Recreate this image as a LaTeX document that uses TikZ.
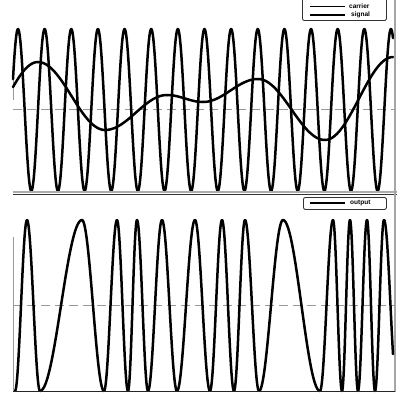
\documentclass[tikz,border=0pt]{standalone}
\usepackage{fontspec}
\setmainfont{Liberation Sans}
\begin{document}
\begin{tikzpicture}[x=1pt,y=-1pt,
  wave/.style={line width=2.5pt,black,line cap=round,line join=round},
  midline/.style={gray!80,line width=1pt,dash pattern=on 9pt off 5pt},
  frame/.style={gray!70,line width=1.4pt},
  axisline/.style={black!85,line width=1.6pt},
  thinaxis/.style={gray!80,line width=0.8pt},
  legbox/.style={draw=black!80,line width=0.9pt,rounded corners=2pt,fill=white},
  legline/.style={black,line width=1.6pt},
  legtext/.style={font=\bfseries\fontsize{6.5}{7}\selectfont,anchor=west,inner sep=0pt}]
\useasboundingbox (0,0) rectangle (410,412);
\fill[white] (0,0) rectangle (410,412);

% ---------- top panel ----------
\coordinate (tl) at (13,109);
\coordinate (tr) at (395,109);
\draw[midline] (tl) -- (tr);
\coordinate (ta1) at (13,78);
\coordinate (ta2) at (13,100);
\draw[thinaxis] (ta1) -- (ta2);
% carrier
\draw[wave] plot[domain=13:393,samples=700] (\x,{110-81*cos(13.5135*(\x-18))});
% signal (half-cosine pieces between extrema)
\draw[wave] plot[domain=13:38,samples=30] (\x,{103+41*cos((\x+29)/67*180)});
\foreach \a/\ya/\b/\yb in {38/62/105/130, 105/130/167/95, 167/95/203/102, 203/102/258/79, 258/79/325/140, 325/140/393/57}
  \draw[wave] plot[domain=\a:\b,samples=40] (\x,{(\ya+\yb)/2+(\ya-\yb)/2*cos((\x-\a)/(\b-\a)*180)});
% axes / frame
\coordinate (tb1) at (13,192);
\coordinate (tb2) at (397,192);
\coordinate (tc1) at (13,194.5);
\coordinate (tc2) at (397,194.5);
\draw[gray!65,line width=1.4pt] (tb1) -- (tb2);
\draw[black!80,line width=1.4pt] (tc1) -- (tc2);
\coordinate (rf1) at (395,0);
\coordinate (rf2) at (395,392);
\draw[frame] (rf1) -- (rf2);
% legend top
\node[legbox,minimum width=84pt,minimum height=28pt,anchor=south west] (legA) at (302,21) {};
\coordinate (la1) at (310,6.5);
\coordinate (la2) at (345,6.5);
\coordinate (lb1) at (310,15);
\coordinate (lb2) at (345,15);
\draw[legline] (la1) -- (la2);
\draw[legline] (lb1) -- (lb2);
\node[legtext] (tcarrier) at (349,6.5) {carrier};
\node[legtext] (tsignal) at (351,15) {signal};

% ---------- bottom panel ----------
\coordinate (bl) at (13,305);
\coordinate (br) at (395,305);
\draw[midline] (bl) -- (br);
\coordinate (ba1) at (13,237);
\coordinate (ba2) at (13,392);
\draw[thinaxis] (ba1) -- (ba2);
\foreach \a/\b/\s in {15/27/1, 27/40/-1, 40/82/1, 82/104/-1, 104/117/1, 117/128/-1, 128/137/1, 137/148/-1, 148/162/1, 162/177/-1, 177/195/1, 195/210/-1, 210/222/1, 222/234/-1, 234/245/1, 245/259/-1, 259/283/1, 283/320/-1, 320/333/1, 333/342/-1, 342/350/1, 350/358/-1, 358/367/1, 367/375/-1, 375/384/1}
  \draw[wave] plot[domain=\a:\b,samples=30] (\x,{305.5+\s*85.5*cos((\x-\a)/(\b-\a)*180)});
\draw[wave] plot[domain=384:393,samples=20] (\x,{305.5-85.5*cos((\x-384)/13*180)});
\coordinate (bb1) at (13,391.5);
\coordinate (bb2) at (395,391.5);
\draw[axisline] (bb1) -- (bb2);
% legend bottom
\node[legbox,minimum width=83pt,minimum height=12pt,anchor=north west] (legB) at (303,197) {};
\coordinate (lc1) at (310,203);
\coordinate (lc2) at (345,203);
\draw[legline] (lc1) -- (lc2);
\node[legtext] (toutput) at (350,203) {output};
\end{tikzpicture}
\end{document}
